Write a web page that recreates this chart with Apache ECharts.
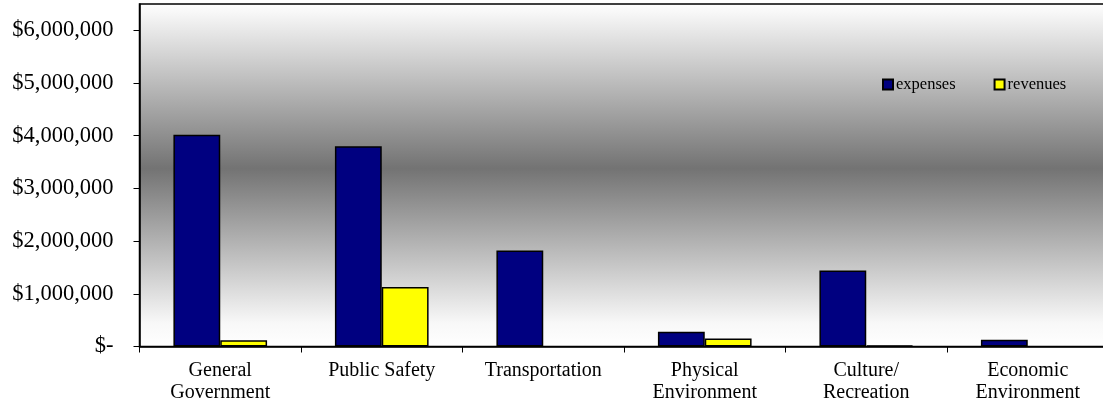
<!DOCTYPE html>
<html>
<head>
<meta charset="utf-8">
<style>
  html, body { margin: 0; padding: 0; background: #ffffff; }
  #chart { width: 1103px; height: 410px; }
</style>
<script src="https://cdn.jsdelivr.net/npm/echarts@6/dist/echarts.min.js"></script>
</head>
<body>
<div id="chart"></div>
<script>
// Department categories
const categories = [
  'General\nGovernment',
  'Public Safety',
  'Transportation',
  'Physical\nEnvironment',
  'Culture/\nRecreation',
  'Economic\nEnvironment'
];

// Dollar amounts per department
const expenses = [4020000, 3800000, 1820000, 280000, 1440000, 130000];
const revenues = [120000, 1130000, 0, 150000, 20000, 0];

// Y-axis tick values
const yTicks = [0, 1000000, 2000000, 3000000, 4000000, 5000000, 6000000];

const FONT = "'Liberation Serif', 'Times New Roman', serif";

function money(v) {
  if (v === 0) return '$-';
  return '$' + v.toLocaleString('en-US');
}

// Empty amounts get no bar at all (no outline on the baseline)
const asBars = arr => arr.map(v => (v === 0 ? '-' : v));

const chart = echarts.init(document.getElementById('chart'), null, { renderer: 'canvas' });

chart.setOption({
  animation: false,
  backgroundColor: '#ffffff',
  grid: {
    left: 139.5,
    width: 969,
    top: 4,
    bottom: 63.5,
    outerBoundsMode: 'none',
    containLabel: false,
    show: true,
    borderColor: '#000000',
    borderWidth: 1.5,
    backgroundColor: {
      type: 'linear', x: 0, y: 0, x2: 0, y2: 1,
      colorStops: [
        { offset: 0, color: '#ffffff' },
        { offset: 0.48, color: '#737373' },
        { offset: 0.93, color: '#f8f8f8' },
        { offset: 1, color: '#ffffff' }
      ]
    }
  },
  legend: {
    left: 882,
    top: 76,
    padding: 0,
    itemWidth: 10,
    itemHeight: 10,
    itemGap: 38,
    icon: 'rect',
    textStyle: { fontFamily: FONT, fontSize: 16.5, color: '#000000', padding: [0, 0, 0, -2] },
    data: ['expenses', 'revenues']
  },
  xAxis: {
    type: 'category',
    data: categories,
    axisLine: { show: true, lineStyle: { color: '#000000', width: 1.5 } },
    axisTick: { show: true, length: 6, lineStyle: { color: '#000000', width: 1 } },
    axisLabel: {
      fontFamily: FONT,
      fontSize: 20,
      lineHeight: 22,
      color: '#000000',
      margin: 13,
      interval: 0
    },
    splitLine: { show: false }
  },
  yAxis: {
    type: 'value',
    min: 0,
    max: 6500000,
    interval: 1000000,
    axisLine: { show: true, lineStyle: { color: '#000000', width: 1.5 } },
    axisTick: { show: true, length: 6, customValues: yTicks, lineStyle: { color: '#000000', width: 1 } },
    axisLabel: {
      customValues: yTicks,
      formatter: money,
      fontFamily: FONT,
      fontSize: 22.5,
      color: '#000000',
      margin: 26
    },
    splitLine: { show: false }
  },
  series: [
    {
      name: 'expenses',
      type: 'bar',
      data: asBars(expenses),
      barGap: '0%',
      barCategoryGap: '42%',
      itemStyle: { color: '#000080', borderColor: '#000000', borderWidth: 1.5 }
    },
    {
      name: 'revenues',
      type: 'bar',
      data: asBars(revenues),
      barGap: '0%',
      barCategoryGap: '42%',
      itemStyle: { color: '#ffff00', borderColor: '#000000', borderWidth: 1.5 }
    }
  ]
});
</script>
</body>
</html>
